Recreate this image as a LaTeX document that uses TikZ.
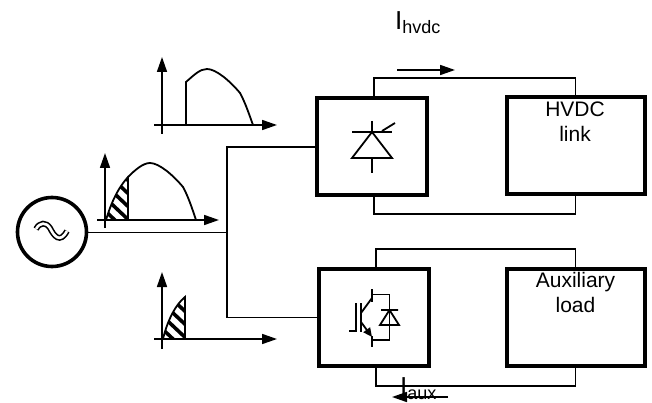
\documentclass[tikz,border=0pt]{standalone}
\usepackage{fontspec}
\setmainfont{Liberation Sans}
\usetikzlibrary{arrows.meta,positioning,calc}
\tikzset{
  thickbox/.style={draw, line width=4pt, minimum width=#1, minimum height=97pt, inner sep=0pt},
  thickbox/.default=110pt,
  wire/.style={line width=1.8pt},
  elem/.style={line width=1.8pt},
  bigtip/.style={-{Triangle[length=15pt,width=10pt]}, line width=1.7pt},
  boxtext/.style={font=\fontsize{21}{25}\selectfont, align=center, inner sep=0pt},
  currtext/.style={font=\fontsize{26}{26}\selectfont, inner sep=0pt, anchor=base west},
}
\begin{document}
\begin{tikzpicture}[x=1pt, y=-1pt]
\useasboundingbox (0,0) rectangle (652,403);
% source and converters
\node[circle, draw, line width=3.6pt, minimum size=69pt, inner sep=0pt] (gen) at (52,232) {};
\node[thickbox] (rect) at (371.5,147) {};
\node[thickbox=138pt] (hvdc) at (575.5,145.5) {};
\node[thickbox] (inv) at (373.5,317.5) {};
\node[thickbox=138pt] (aux) at (575.5,317.5) {};
\node[boxtext, anchor=north] (hvdctext) at (575,101.5) {HVDC\\link};
\node[boxtext, anchor=north] (auxtext) at (575.5,272) {Auxiliary\\load};
\coordinate (bus) at (227,232.5);
\coordinate (hvdctop) at (374,78);
\coordinate (hvdcbot) at (374,214);
\coordinate (auxtop) at (376,249);
\coordinate (auxbot) at (376,386);
\draw[wire] (gen.east |- bus) -- (bus);
\draw[wire] (rect.west) -| (bus) |- (inv.west);
\draw[wire] (hvdctop |- rect.north) -- (hvdctop) -| (hvdc.north);
\draw[wire] (hvdcbot |- rect.south) -- (hvdcbot) -| (hvdc.south);
\draw[wire] (auxtop |- inv.north) -- (auxtop) -| (aux.north);
\draw[wire] (auxbot |- inv.south) -- (auxbot) -| (aux.south);
% currents
\node[currtext] (ihvdc) at (395,30) {I\raisebox{-4pt}{\fontsize{18}{18}\selectfont hvdc}};
\node[currtext] (iaux) at (400,395) {I\raisebox{-4pt}{\fontsize{18}{18}\selectfont aux}};
\coordinate (ihvdcs) at (397,70);
\coordinate (ihvdce) at (455,70);
\coordinate (iauxs) at (448,397);
\coordinate (iauxe) at (392,397);
\draw[bigtip] (ihvdcs) -- (ihvdce);
\draw[bigtip] (iauxs) -- (iauxe);
% waveforms
\foreach \ox/\oy/\xe/\yt/\yb in {162/125/277/57/134, 105/220/219/153/228, 162/339/277/272/349}{
  \draw[bigtip] (\ox-8,\oy) -- (\xe,\oy);
  \draw[bigtip] (\ox,\yb) -- (\ox,\yt);
}
\draw[elem] (186,125) -- (186,82) .. controls (194,75) and (200,69) .. (207,69) .. controls (216,69) and (230,81) .. (240,93) .. controls (245,102) and (249,114) .. (253,125);
\begin{scope}
  \clip (106,220) .. controls (111,203) and (118,188) .. (128,177) -- (128,220) -- cycle;
  \foreach \s in {-2,-1,...,6}{\draw[line width=3.6pt] (100,154+\s*13) -- (135,187+\s*13);}
\end{scope}
\draw[elem] (128,220) -- (128,177);
\draw[elem] (106,220) .. controls (111,203) and (118,188) .. (128,177) .. controls (135,170) and (143,163) .. (150,163) .. controls (159,163) and (173,175) .. (183,187) .. controls (188,196) and (192,208) .. (196,220);
\begin{scope}
  \clip (163,339) .. controls (167,322) and (175,305) .. (185,297) -- (185,339) -- cycle;
  \foreach \s in {-1,0,...,5}{\draw[line width=3.6pt] (155,270+\s*13) -- (190,303+\s*13);}
\end{scope}
\draw[elem] (163,339) .. controls (167,322) and (175,305) .. (185,297) -- (185,339);
% sine in the source
\draw[double, line width=1.6pt, double distance=2.6pt] (36,229) .. controls (40,222) and (46,222) .. (50,228) .. controls (54,236) and (60,244) .. (67,231);
% thyristor
\draw[elem] (352,132) -- (392,132) (372,121) -- (372,132) (372,158) -- (372,173);
\draw[elem] (372,132) -- (392,158) -- (352,158) -- cycle;
\draw[elem] (382,131) -- (395,123);
% igbt with its diode
\draw[elem] (349,331) -- (356,331) -- (356,303) (361,303) -- (361,332);
\draw[elem] (372,289) -- (372,302) (372,336) -- (372,347);
\draw[elem] (361,313) -- (372,298);
\draw[elem, -{Triangle[length=9pt,width=8pt]}] (361,322) -- (372,337);
\draw[elem] (372,294.5) -- (389.5,294.5) -- (389.5,340) -- (372,340);
\draw[elem] (381,310) -- (398,310) (389.5,310) -- (399,325) -- (380,325) -- cycle;
\end{tikzpicture}
\end{document}
